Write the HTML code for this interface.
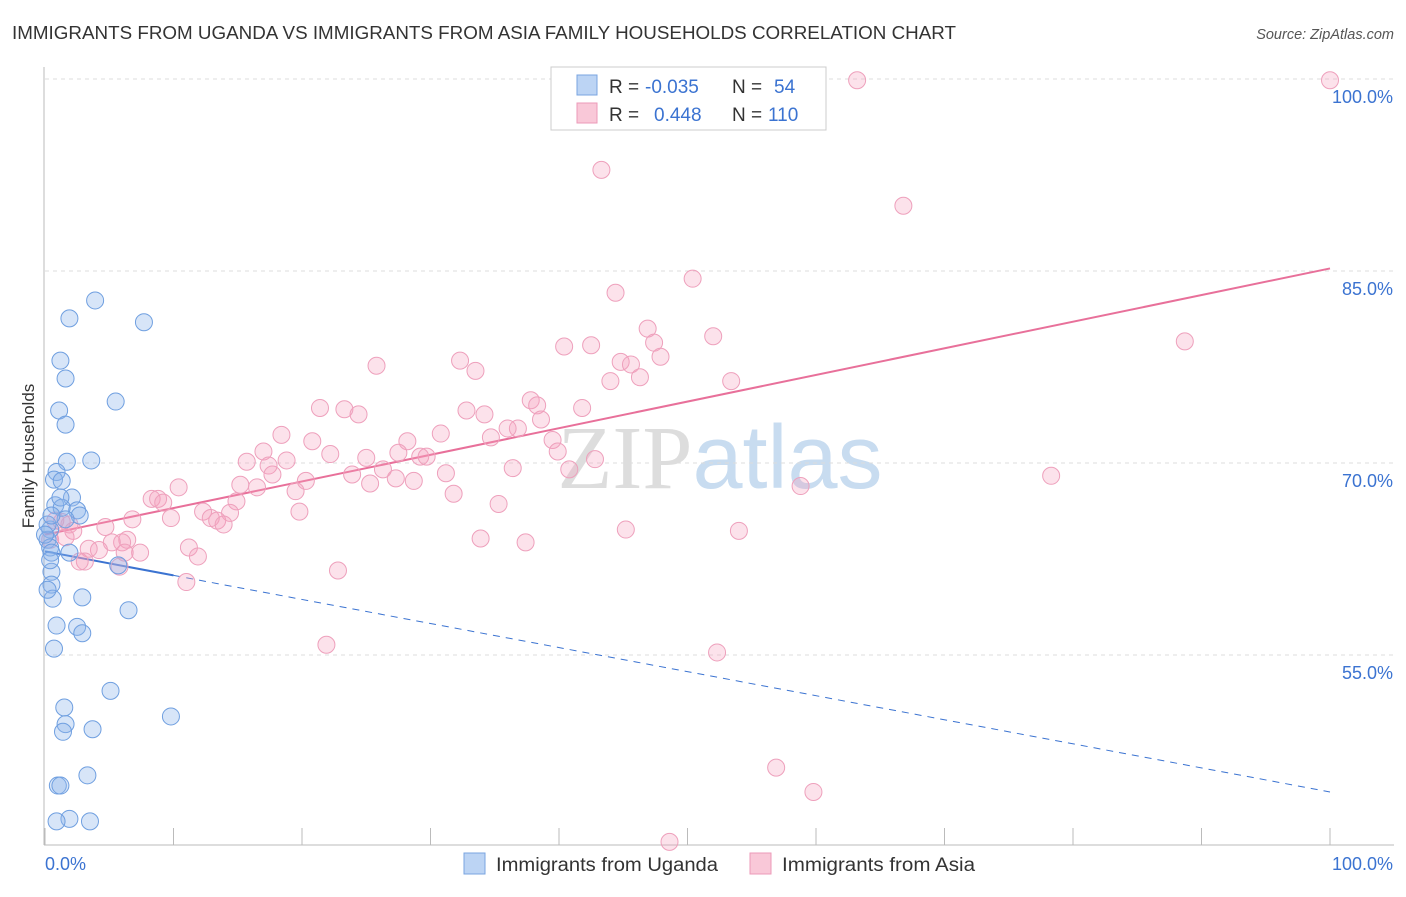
<!DOCTYPE html>
<html><head><meta charset="utf-8"><style>
body{margin:0;background:#fff;font-family:"Liberation Sans",sans-serif;}
svg text{font-family:"Liberation Sans",sans-serif;}
</style></head><body>
<svg id="chart" width="1406" height="892" xmlns="http://www.w3.org/2000/svg">
<text x="12" y="39" font-size="18" fill="#333" textLength="944" lengthAdjust="spacingAndGlyphs">IMMIGRANTS FROM UGANDA VS IMMIGRANTS FROM ASIA FAMILY HOUSEHOLDS CORRELATION CHART</text>
<text x="1394" y="39" font-size="14.5" fill="#555" text-anchor="end" font-style="italic">Source: ZipAtlas.com</text>
<text x="720" y="488" font-size="90" text-anchor="middle"><tspan fill="#ddd" font-family="Liberation Serif">ZIP</tspan><tspan fill="#c8dcf0">atlas</tspan></text>
<text transform="translate(34,456) rotate(-90)" font-size="17" fill="#333" text-anchor="middle">Family Households</text>
<g id="grid"></g>
<g id="axes"></g>
<g id="trend"></g>
<g id="pts"></g>
<g>
<rect x="551" y="67" width="275" height="63" fill="#fff" stroke="#ccc"/>
<rect x="577" y="75" width="20" height="20" fill="#bcd4f4" stroke="#7aa4e0"/>
<rect x="577" y="103" width="20" height="20" fill="#f9c8d8" stroke="#ec9ab8"/>
<text x="609" y="93" font-size="19" fill="#333">R =</text>
<text x="645" y="93" font-size="19" fill="#3b73d1">-0.035</text>
<text x="732" y="93" font-size="19" fill="#333">N =</text>
<text x="774" y="93" font-size="19" fill="#3b73d1">54</text>
<text x="609" y="121" font-size="19" fill="#333">R =</text>
<text x="654" y="121" font-size="19" fill="#3b73d1">0.448</text>
<text x="732" y="121" font-size="19" fill="#333">N =</text>
<text x="768" y="121" font-size="19" fill="#3b73d1">110</text>
</g>
<g>
<rect x="464" y="853" width="21" height="21" fill="#bcd4f4" stroke="#7aa4e0"/>
<text x="496" y="871" font-size="19" fill="#333" textLength="222" lengthAdjust="spacingAndGlyphs">Immigrants from Uganda</text>
<rect x="750" y="853" width="21" height="21" fill="#f9c8d8" stroke="#ec9ab8"/>
<text x="782" y="871" font-size="19" fill="#333" textLength="193" lengthAdjust="spacingAndGlyphs">Immigrants from Asia</text>
</g>
</svg>
<script>
const yTicks=[55,70,85,100];
const yTickLabels=["55.0%","70.0%","85.0%","100.0%"];
const xTicks=[0,10,20,30,40,50,60,70,80,90,100];
const xEndLabels=["0.0%","100.0%"];
const ugX=[3.9,1.9,7.7,1.2,1.6,5.5,1.1,1.6,1.7,3.6,0.9,0.7,1.3,2.1,2.5,2.7,0.8,1.3,1.6,0.4,0.2,0.4,0.5,1.9,0.5,0.5,0.6,2.9,6.5,0.9,2.5,2.9,0.7,5.1,1.5,1.6,1.4,3.7,9.8,3.3,1.0,1.2,1.9,0.9,3.5,5.7,0.2,0.2,0.4,1.2,0,0.5];
const ugY=[82.7,81.3,81.0,78.0,76.6,74.8,74.1,73.0,70.1,70.2,69.3,68.7,68.6,67.3,66.3,65.9,66.7,66.5,65.6,64.8,64.0,63.4,63.0,63.0,61.5,60.5,59.4,59.5,58.5,57.3,57.2,56.7,55.5,52.2,50.9,49.6,49.0,49.2,50.2,45.6,44.8,44.8,42.2,42.0,42.0,62.0,65.2,60.1,62.4,67.3,64.4,65.9];
const asX=[100,63.2,43.3,66.8,50.4,44.4,88.7,46.9,52.0,40.4,42.5,47.4,47.9,44.8,45.6,25.8,32.3,33.5,46.3,44.0,53.4,37.8,41.8,38.3,32.8,34.2,24.4,21.4,23.3,36.8,38.6,34.7,36.0,30.8,18.4,20.8,28.2,39.5,17.0,22.2,15.7,25.0,27.5,39.9,42.8,29.2,29.7,17.4,18.8,26.3,23.9,40.8,36.4,31.2,78.3,58.8,17.7,15.2,16.5,20.3,25.3,27.3,28.7,10.4,19.5,8.3,31.8,8.8,9.2,14.9,35.3,19.8,12.3,14.4,12.9,9.8,6.8,13.4,13.9,4.7,1.3,1.9,2.2,45.2,54.0,33.9,37.4,6.4,6.0,5.2,4.2,3.4,1.6,11.2,11.9,7.4,6.2,3.1,2.7,5.8,11.0,22.8,21.9,52.3,56.9,59.8,48.6,0.4,0.8];
const asY=[99.9,99.9,92.9,90.1,84.4,83.3,79.5,80.5,79.9,79.1,79.2,79.4,78.3,77.9,77.7,77.6,78.0,77.2,76.7,76.4,76.4,74.9,74.3,74.5,74.1,73.8,73.8,74.3,74.2,72.7,73.4,72.0,72.7,72.3,72.2,71.7,71.7,71.8,70.9,70.7,70.1,70.4,70.8,70.9,70.3,70.5,70.5,69.8,70.2,69.5,69.1,69.5,69.6,69.2,69.0,68.2,69.1,68.3,68.1,68.6,68.4,68.8,68.6,68.1,67.8,67.2,67.6,67.2,66.9,67.0,66.8,66.2,66.2,66.1,65.7,65.7,65.6,65.5,65.2,65.0,65.4,65.2,64.7,64.8,64.7,64.1,63.8,64.0,63.8,63.8,63.2,63.3,64.2,63.4,62.7,63.0,63.0,62.3,62.3,61.9,60.7,61.6,55.8,55.2,46.2,44.3,40.4,64.0,65.5];
const ugTrend=[63.1,44.3];
const asTrend=[64.4,85.2];
const ugSolidEnd=10;

const X=v=>45+v*12.85;
const Y=v=>79+(100-v)*12.8;
const NS="http://www.w3.org/2000/svg";
function mk(tag,attrs,parent){const e=document.createElementNS(NS,tag);for(const k in attrs)e.setAttribute(k,attrs[k]);parent.appendChild(e);return e;}
const grid=document.getElementById('grid'),axes=document.getElementById('axes'),trend=document.getElementById('trend'),pts=document.getElementById('pts');
yTicks.forEach((t,i)=>{
 const l=mk('line',{x1:45,x2:1394,y1:Y(t),y2:Y(t),stroke:'#ddd','stroke-dasharray':'4,4'},grid);
 
 
 const tx=mk('text',{x:1393,y:Y(t)+24,'font-size':18,fill:'#3b73d1','text-anchor':'end'},axes);
 tx.textContent=yTickLabels[i];
 
 
});
const al=mk('line',{x1:44,x2:44,y1:67,y2:845,stroke:'#bbb'},axes);


const bl=mk('line',{x1:44,x2:1394,y1:845,y2:845,stroke:'#bbb'},axes);


xTicks.forEach(t=>{
 const l=mk('line',{x1:X(t),x2:X(t),y1:828,y2:845,stroke:'#bbb'},axes);
 
 
});
const xl0=mk('text',{x:45,y:870,'font-size':18,fill:'#3b73d1'},axes);xl0.textContent=xEndLabels[0];


const xl1=mk('text',{x:1393,y:870,'font-size':18,fill:'#3b73d1','text-anchor':'end'},axes);xl1.textContent=xEndLabels[1];


const ugAt=x=>ugTrend[0]+(ugTrend[1]-ugTrend[0])*x/100;
const ta=mk('line',{x1:X(0),y1:Y(asTrend[0]),x2:X(100),y2:Y(asTrend[1]),stroke:'#e8709a','stroke-width':2},trend);


const tu=mk('line',{x1:X(0),y1:Y(ugAt(0)),x2:X(ugSolidEnd),y2:Y(ugAt(ugSolidEnd)),stroke:'#3b73d1','stroke-width':2},trend);


const td=mk('line',{x1:X(ugSolidEnd),y1:Y(ugAt(ugSolidEnd)),x2:X(100),y2:Y(ugAt(100)),stroke:'#3b73d1','stroke-width':1,'stroke-dasharray':'7,6'},trend);


asX.forEach((x,i)=>{
 const c=mk('circle',{cx:X(x),cy:Y(asY[i]),r:8.5,fill:'rgba(244,160,190,0.3)',stroke:'#eea0bc','stroke-width':1},pts);
 
 
});
ugX.forEach((x,i)=>{
 const c=mk('circle',{cx:X(x),cy:Y(ugY[i]),r:8.5,fill:'rgba(140,180,235,0.35)',stroke:'#6f9fe0','stroke-width':1},pts);
 
 
});
</script>
</body></html>
